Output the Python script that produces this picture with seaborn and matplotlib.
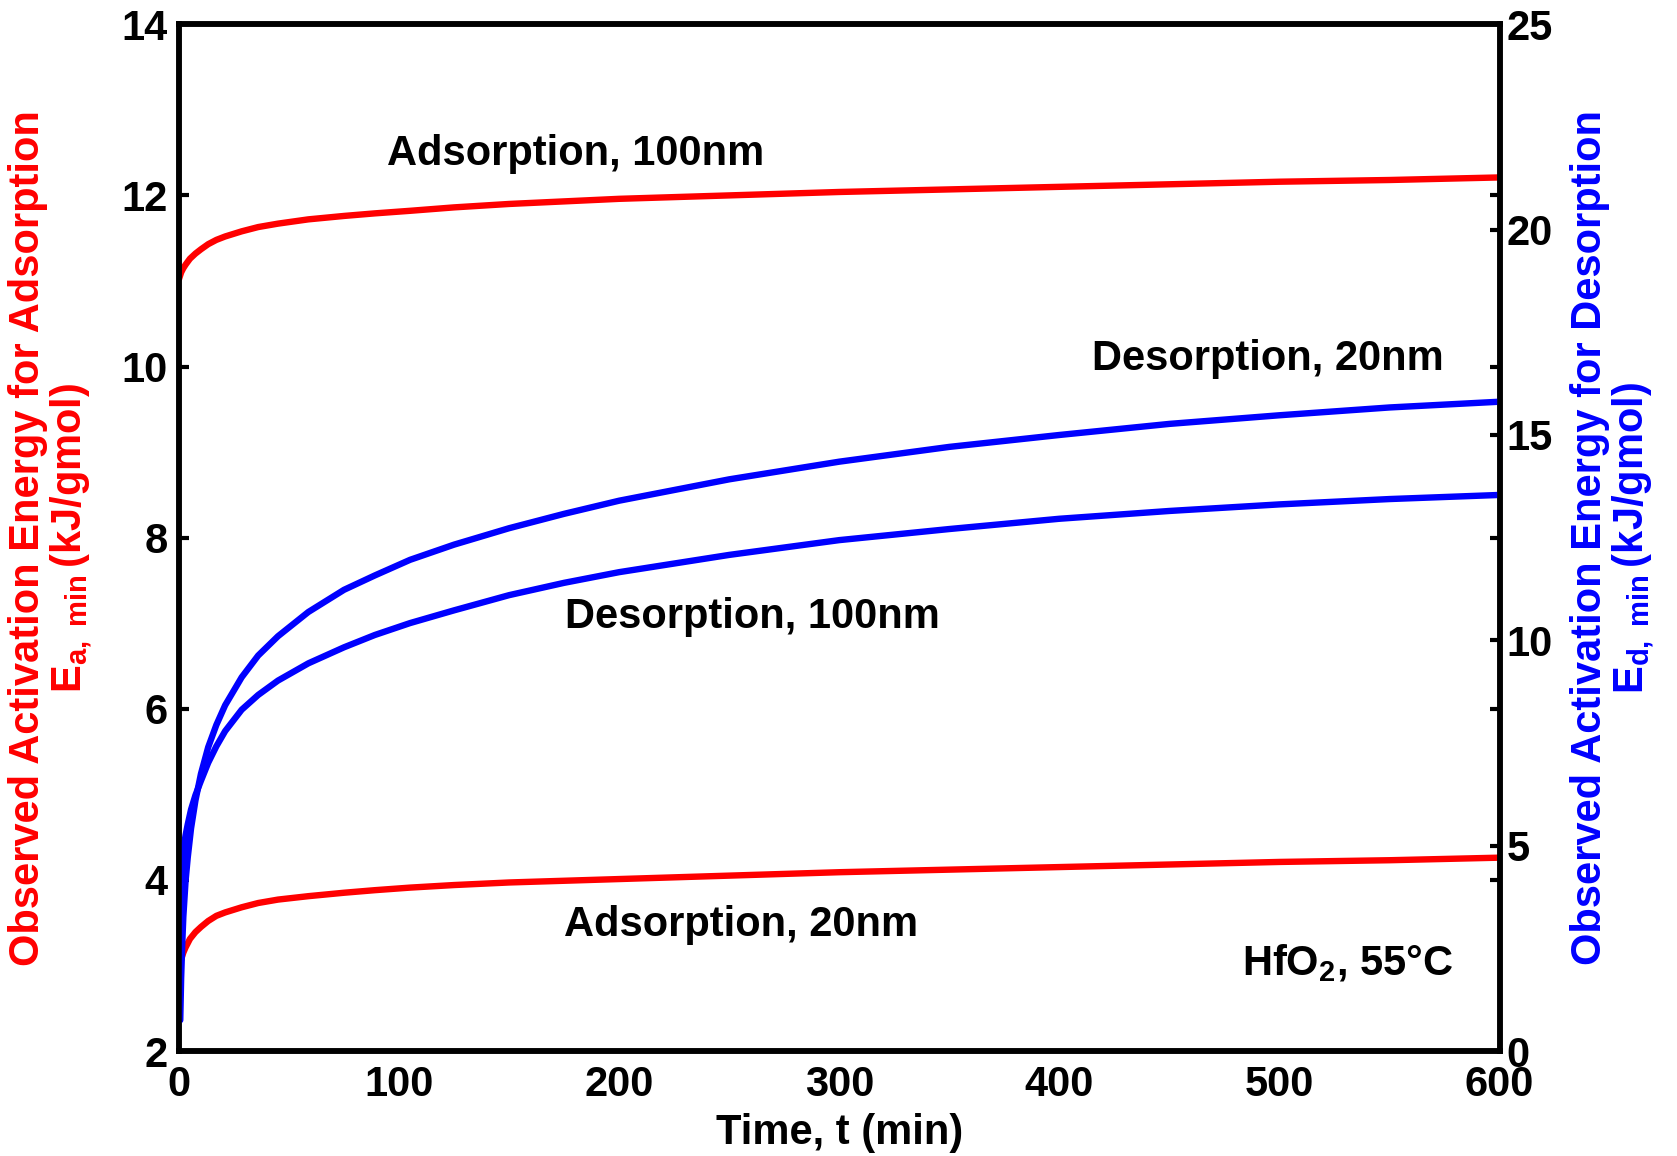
import numpy as np
import pandas as pd
import matplotlib
matplotlib.use("Agg")
import matplotlib.pyplot as plt
import seaborn as sns

# ---------------- data ----------------
# Adsorption curves (left axis, kJ/gmol)
t_ads = [0, 0.5, 1, 2, 3, 5, 7.5, 10, 13.3, 17, 21, 28.5, 36, 45, 58.8, 75, 89, 105, 125,
         150, 175, 200, 250, 300, 350, 400, 450, 500, 550, 600]
ads_100nm = [11.02, 11.06, 11.10, 11.15, 11.19, 11.26, 11.32, 11.37, 11.43, 11.48, 11.52,
             11.58, 11.63, 11.67, 11.72, 11.76, 11.79, 11.82, 11.86, 11.90, 11.93, 11.96,
             12.00, 12.04, 12.07, 12.10, 12.13, 12.16, 12.18, 12.21]
ads_20nm = [2.95, 3.02, 3.07, 3.15, 3.21, 3.31, 3.39, 3.45, 3.52, 3.58, 3.62, 3.68, 3.73,
            3.77, 3.81, 3.85, 3.88, 3.91, 3.94, 3.97, 3.99, 4.01, 4.05, 4.09, 4.12, 4.15,
            4.18, 4.21, 4.23, 4.26]

# Desorption curves (right axis, kJ/gmol)
t_des20 = [0.6, 1, 1.5, 2, 3, 4, 5.5, 7.5, 10, 13.3, 17, 21, 28.5, 36, 45, 58.8, 75, 89,
           105, 125, 150, 175, 200, 250, 300, 350, 400, 450, 500, 550, 600]
des_20nm = [0.75, 1.77, 2.60, 3.27, 4.13, 4.71, 5.42, 6.10, 6.75, 7.40, 7.94, 8.42, 9.10,
            9.63, 10.10, 10.69, 11.23, 11.58, 11.96, 12.33, 12.73, 13.08, 13.40, 13.92,
            14.35, 14.71, 15.00, 15.27, 15.48, 15.67, 15.81]
t_des100 = [0, 0.5, 1, 2, 3, 4, 5.5, 7.5, 10, 13.3, 17, 21, 28.5, 36, 45, 58.8, 75, 89,
            105, 125, 150, 175, 200, 250, 300, 350, 400, 450, 500, 550, 600]
des_100nm = [3.85, 4.17, 4.42, 4.90, 5.25, 5.52, 5.88, 6.23, 6.58, 7.02, 7.42, 7.79, 8.31,
             8.67, 9.02, 9.44, 9.83, 10.13, 10.42, 10.73, 11.10, 11.40, 11.66, 12.08,
             12.44, 12.71, 12.96, 13.15, 13.31, 13.44, 13.54]

x_ticks = [0, 100, 200, 300, 400, 500, 600]
left_ticks = [2, 4, 6, 8, 10, 12, 14]
right_ticks = [0, 5, 10, 15, 20, 25]

# ---------------- style ----------------
sns.set_style("white")
plt.rcParams["font.family"] = ["Liberation Sans", "DejaVu Sans"]
plt.rcParams["font.weight"] = "bold"
plt.rcParams["axes.labelweight"] = "bold"
plt.rcParams["text.color"] = "black"
plt.rcParams["axes.labelcolor"] = "black"
plt.rcParams["xtick.color"] = "black"
plt.rcParams["ytick.color"] = "black"
plt.rcParams["mathtext.fontset"] = "custom"
plt.rcParams["mathtext.rm"] = "Liberation Sans:bold"
plt.rcParams["mathtext.it"] = "Liberation Sans:bold"
plt.rcParams["mathtext.bf"] = "Liberation Sans:bold"

FS = 30
LW = 4.6
RED = "#ff0000"
BLUE = "#0000ff"

fig = plt.figure(figsize=(16.77, 11.56), dpi=100)
ax = fig.add_axes([0.1067, 0.0908, 0.7875, 0.8882])
ax2 = ax.twinx()

df_a100 = pd.DataFrame({"t": t_ads, "E": ads_100nm})
df_a20 = pd.DataFrame({"t": t_ads, "E": ads_20nm})
df_d20 = pd.DataFrame({"t": t_des20, "E": des_20nm})
df_d100 = pd.DataFrame({"t": t_des100, "E": des_100nm})

sns.lineplot(data=df_a100, x="t", y="E", ax=ax, color=RED, lw=LW, sort=False)
sns.lineplot(data=df_a20, x="t", y="E", ax=ax, color=RED, lw=LW, sort=False)
sns.lineplot(data=df_d20, x="t", y="E", ax=ax2, color=BLUE, lw=LW, sort=False)
sns.lineplot(data=df_d100, x="t", y="E", ax=ax2, color=BLUE, lw=LW, sort=False)

ax.set_xlim(0, 600)
ax.set_ylim(2, 14)
ax2.set_ylim(0, 25)
ax.set_xticks(x_ticks)
ax.set_yticks(left_ticks)
ax2.set_yticks(right_ticks)

for a in (ax, ax2):
    for s in a.spines.values():
        s.set_visible(True)
        s.set_linewidth(4)
        s.set_color("black")

ax.tick_params(axis="x", direction="in", length=7, width=3, labelsize=FS, pad=10,
               top=False, colors="black")
ax.tick_params(axis="y", direction="in", length=7, width=3, labelsize=FS, pad=8,
               right=True, colors="black")
ax2.tick_params(axis="y", direction="in", length=7, width=3, labelsize=FS, pad=5,
                colors="black")
for lab in ax.get_xticklabels() + ax.get_yticklabels() + ax2.get_yticklabels():
    lab.set_fontweight("bold")
    lab.set_color("black")

ax.set_xlabel("Time, t (min)", fontsize=FS, fontweight="bold", color="black", labelpad=6)
ax.set_ylabel("Observed Activation Energy for Adsorption\n"
              r"$\mathbf{E_{a,\ min}}\,$(kJ/gmol)",
              fontsize=FS, fontweight="bold", color=RED, linespacing=1.0)
ax.yaxis.set_label_coords(-0.064, 0.5)
ax2.set_ylabel("Observed Activation Energy for Desorption\n"
               r"$\mathbf{E_{d,\ min}}\,$(kJ/gmol)",
               fontsize=FS, fontweight="bold", color=BLUE, linespacing=1.0,
               rotation=90)
ax2.yaxis.set_label_coords(1.053, 0.5)

txt = dict(fontsize=FS, fontweight="bold", color="black", ha="center", va="baseline")
ax.text(180, 12.36, "Adsorption, 100nm", **txt)
ax.text(494.7, 9.96, "Desorption, 20nm", **txt)
ax.text(260.4, 6.94, "Desorption, 100nm", **txt)
ax.text(255.5, 3.35, "Adsorption, 20nm", **txt)
ax.text(531, 2.89, r"HfO$_{\mathbf{2}}$, 55°C", **txt)

fig.savefig("out.png", dpi=100, facecolor="white")
